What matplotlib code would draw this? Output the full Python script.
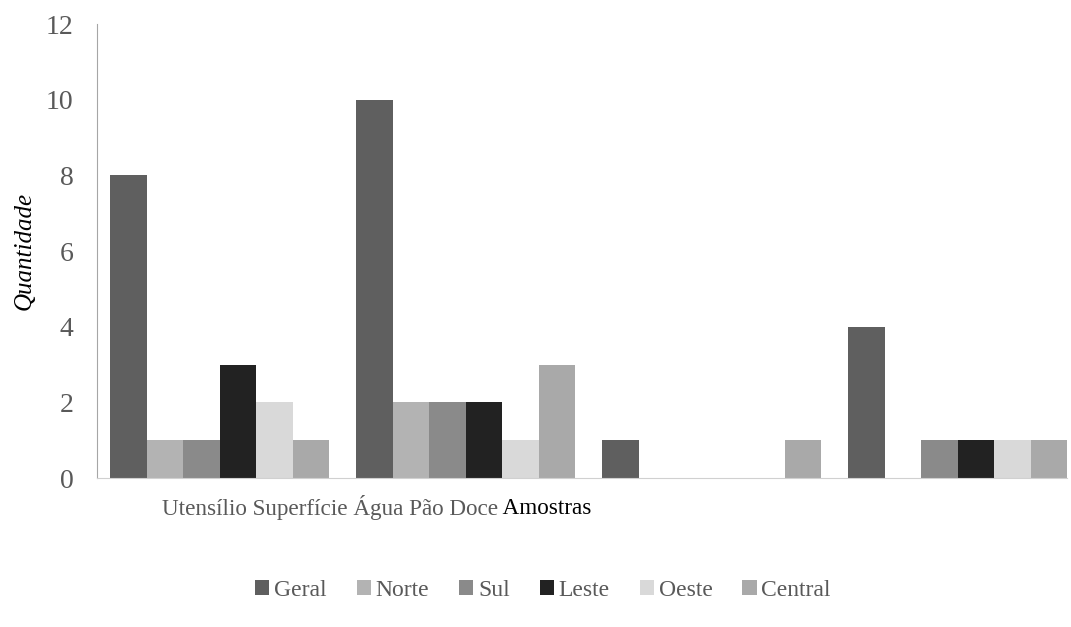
import numpy as np
import matplotlib
matplotlib.use('Agg')
import matplotlib.pyplot as plt

categories = ['Utensílio', 'Superfície', 'Água', 'Pão Doce']
series = ['Geral', 'Norte', 'Sul', 'Leste', 'Oeste', 'Central']
geral = [8, 10, 1, 4]
norte = [1, 2, 0, 0]
sul = [1, 2, 0, 1]
leste = [3, 2, 0, 1]
oeste = [2, 1, 0, 1]
central = [1, 3, 1, 1]
colors = ['#5f5f5f', '#b3b3b3', '#8a8a8a', '#222222', '#d9d9d9', '#a9a9a9']

plt.rcParams['font.family'] = 'serif'
plt.rcParams['font.serif'] = ['Liberation Serif', 'Times New Roman', 'DejaVu Serif']

fig = plt.figure(figsize=(10.71, 6.27), dpi=100)
ax = fig.add_axes([0.0906, 0.2376, 0.9057, 0.7241])

x = np.arange(len(categories))
width = 0.1484
values = [geral, norte, sul, leste, oeste, central]
for i, (name, vals) in enumerate(zip(series, values)):
    offset = (i - 2.5) * width
    ax.bar(x + offset, vals, width, color=colors[i], label=name, linewidth=0)

ax.set_ylim(0, 12)
ax.set_yticks(range(0, 13, 2))
ax.set_xlim(-0.498, 3.445)
ax.set_xticks([])
ax.tick_params(axis='y', length=0, labelsize=20, labelcolor='#595959', pad=17)

for s in ['top', 'right']:
    ax.spines[s].set_visible(False)
ax.spines['left'].set_color('#a6a6a6')
ax.spines['bottom'].set_color('#d0d0d0')

ax.set_ylabel('Quantidade', fontsize=18, style='italic', color='black', labelpad=7)

# category names all squeezed together, followed by axis title
t = fig.text(162 / 1071, 1 - 507 / 627, ' '.join(categories), fontsize=16.7,
             color='#595959', va='center', ha='left')
ax.annotate(' Amostras', xy=(1, 0), xycoords=t, va='bottom', ha='left',
            fontsize=16.7, color='black')

fig.legend(loc='center', bbox_to_anchor=(0.507, 0.059), ncol=6, frameon=False,
           fontsize=17, handlelength=0.6, handleheight=0.6, handletextpad=0.2,
           columnspacing=1.27, labelcolor='#595959')

fig.savefig('out.png', dpi=100)
